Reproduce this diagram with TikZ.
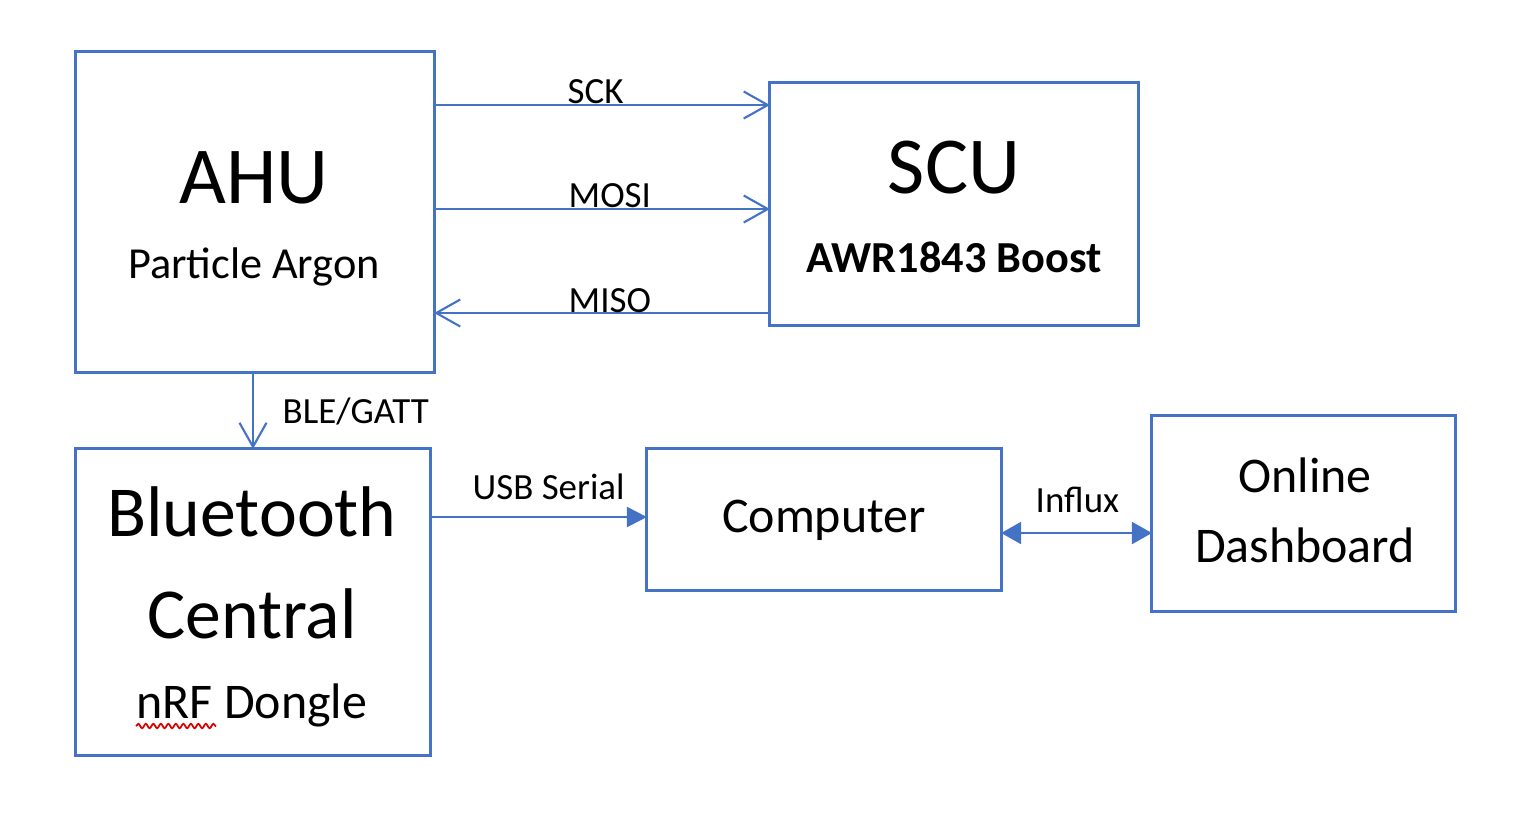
\documentclass[tikz,border=0pt]{standalone}
\usepackage{fontspec}
\setmainfont{Carlito}
\usetikzlibrary{arrows.meta, decorations.pathmorphing}
\definecolor{linkblue}{RGB}{68,114,196}

\begin{document}
\begin{tikzpicture}[x=0.01cm, y=-0.01cm,
    box/.style={draw=linkblue, line width=0.85pt, inner sep=0pt, outer sep=0pt},
    wire/.style={draw=linkblue, line width=0.6pt},
    bus/.style={wire, -{Straight Barb[length=2.4mm, width=2.7mm]}},
    feed/.style={wire, -{Triangle[length=2mm, width=2mm]}},
    sync/.style={wire, {Triangle[length=2mm, width=2.2mm]}-{Triangle[length=2mm, width=2.2mm]}},
    headtxt/.style={font=\fontsize{23}{27}\selectfont, anchor=base},
    bigtxt/.style={font=\fontsize{20.4}{24}\selectfont, anchor=base},
    subtxt/.style={font=\fontsize{14.2}{17}\selectfont, anchor=base},
    smalltxt/.style={font=\fontsize{12.6}{15}\selectfont, anchor=base},
    tagtxt/.style={font=\fontsize{10.5}{12}\selectfont, anchor=base west, inner sep=0pt}
]

    \useasboundingbox (0,0) rectangle (1536,814);

    % --- Blocks ---
    \node[box, minimum width=3.58cm, minimum height=3.20cm] (AHU) at (255,212) {};
    \node[box, minimum width=3.68cm, minimum height=2.42cm] (SCU) at (954,204) {};
    \node[box, minimum width=3.54cm, minimum height=3.06cm] (BT) at (253,602) {};
    \node[box, minimum width=3.54cm, minimum height=1.41cm] (PC) at (824,519.5) {};
    \node[box, minimum width=3.03cm, minimum height=1.95cm] (DB) at (1303.5,513.5) {};

    % --- Block texts ---
    \node[headtxt] (ahuT) at (254,203) {AHU};
    \node[smalltxt] (ahuS) at (254,278) {Particle Argon};
    \node[headtxt] (scuT) at (954,193) {SCU};
    \node[smalltxt, font=\fontsize{12.6}{15}\selectfont\bfseries] (scuS) at (954,272) {AWR1843 Boost};
    \node[bigtxt] (btT) at (252,536) {Bluetooth};
    \node[bigtxt] (btC) at (252,638) {Central};
    \node[subtxt] (btS) at (252,718) {nRF Dongle};
    \node[subtxt] (pcT) at (824,532) {Computer};
    \node[subtxt] (dbT) at (1305,492) {Online};
    \node[subtxt] (dbD) at (1305,562) {Dashboard};
    \draw[red!85!black, line width=0.5pt, decorate,
        decoration={snake, amplitude=0.22mm, segment length=0.75mm}] (136,726) -- (216,726);

    % --- SPI lines ---
    \draw[bus] (AHU.east |- 0,105) -- (SCU.west |- 0,105);
    \node[tagtxt] (sck) at (567,103) {SCK};
    \draw[bus] (AHU.east |- 0,209) -- (SCU.west |- 0,209);
    \node[tagtxt] (mosi) at (568,207) {MOSI};
    \draw[bus] (SCU.west |- 0,313) -- (AHU.east |- 0,313);
    \node[tagtxt] (miso) at (568,312) {MISO};

    % --- Data path ---
    \draw[bus] (BT.north |- AHU.south) -- (BT.north);
    \node[tagtxt] (ble) at (282,423) {BLE/GATT};
    \draw[feed] (BT.east |- 0,517) -- (PC.west |- 0,517);
    \node[tagtxt] (usb) at (472,499) {USB Serial};
    \draw[sync] (PC.east |- 0,533) -- (DB.west |- 0,533);
    \node[tagtxt] (influx) at (1035,512) {Influx};

\end{tikzpicture}
\end{document}
